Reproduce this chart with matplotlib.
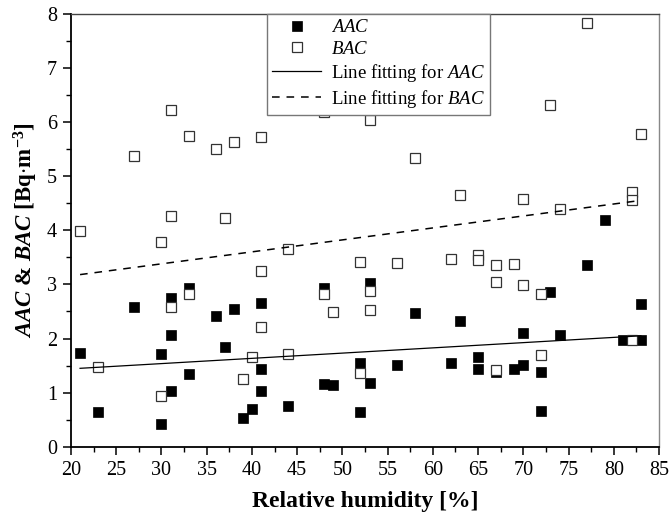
import numpy as np
import matplotlib
matplotlib.use("Agg")
import matplotlib.pyplot as plt
from matplotlib.ticker import MultipleLocator

plt.rcParams['font.family'] = ['Liberation Serif', 'DejaVu Serif']
plt.rcParams['mathtext.fontset'] = 'custom'
plt.rcParams['mathtext.rm'] = 'Liberation Serif'
plt.rcParams['mathtext.it'] = 'Liberation Serif:italic'
plt.rcParams['mathtext.bf'] = 'Liberation Serif:bold'
plt.rcParams['mathtext.bfit'] = 'Liberation Serif:bold:italic'

# AAC points (filled squares)
aac_rh = [21, 23, 27, 30, 30, 31, 31, 31, 33, 33, 36, 37, 38, 39, 40, 41, 41, 41,
          44, 48, 48, 49, 52, 52, 53, 53, 56, 58, 62, 63, 65, 65, 67, 69, 70, 70,
          72, 72, 73, 74, 77, 79, 81, 83, 83]
aac_val = [1.74, 0.64, 2.59, 1.71, 0.43, 2.74, 2.07, 1.04, 2.93, 1.34, 2.41, 1.85, 2.55,
           0.54, 0.70, 2.66, 1.44, 1.04, 0.76, 2.94, 1.16, 1.14, 1.55, 0.64, 3.03,
           1.17, 1.52, 2.47, 1.54, 2.32, 1.66, 1.44, 1.38, 1.44, 2.10, 1.51, 1.38, 0.67,
           2.85, 2.06, 3.35, 4.19, 1.97, 2.64, 1.97]

# BAC points (open squares)
bac_rh = [21, 23, 27, 30, 30, 31, 31, 31, 33, 33, 36, 37, 38, 39, 40, 41, 41, 41,
          44, 44, 48, 48, 49, 52, 52, 53, 53, 53, 56, 58, 62, 63, 65, 65, 67, 67, 67,
          69, 70, 70, 72, 72, 73, 74, 77, 82, 82, 82, 83]
bac_val = [3.99, 1.48, 5.37, 3.78, 0.94, 6.22, 4.27, 2.59, 5.74, 2.82, 5.50, 4.22, 5.62,
           1.26, 1.66, 5.72, 3.24, 2.22, 3.66, 1.71, 6.19, 2.82, 2.49, 3.42, 1.37, 6.03,
           2.88, 2.52, 3.40, 5.34, 3.47, 4.65, 3.55, 3.45, 3.36, 3.05, 1.42, 3.38, 4.58,
           2.99, 2.82, 1.70, 6.31, 4.40, 7.82, 4.70, 4.56, 1.97, 5.77]

# fitted lines (end points)
fit_rh = [21, 83]
aac_fit = [1.45, 2.05]
bac_fit = [3.18, 4.55]

fig = plt.figure(figsize=(6.7, 5.16), dpi=100)
ax = fig.add_axes([0.106, 0.134, 0.8776, 0.8398])

ax.plot(aac_rh, aac_val, linestyle='none', marker='s', ms=6.8, mfc='black',
        mec='black', mew=0.5, label=r'$\mathit{AAC}$', zorder=3)
ax.plot(bac_rh, bac_val, linestyle='none', marker='s', ms=6.7, mfc='white',
        mec='#333333', mew=0.9, label=r'$\mathit{BAC}$', zorder=4)
ax.plot(fit_rh, aac_fit, color='black', lw=0.9, label=r'Line fitting for $\mathit{AAC}$', zorder=5)
ax.plot(fit_rh, bac_fit, color='black', lw=1.1, dashes=(5, 4.5),
        label=r'Line fitting for $\mathit{BAC}$', zorder=5)

ax.set_xlim(20, 85)
ax.set_ylim(0, 8)
ax.xaxis.set_major_locator(MultipleLocator(5))
ax.xaxis.set_minor_locator(MultipleLocator(2.5))
ax.yaxis.set_major_locator(MultipleLocator(1))
ax.yaxis.set_minor_locator(MultipleLocator(0.5))
ax.tick_params(which='major', direction='out', length=6, width=1.1, labelsize=14.5, pad=4)
ax.tick_params(which='minor', direction='out', length=3.5, width=1.0)

for s in ['left', 'bottom']:
    ax.spines[s].set_linewidth(1.3)
ax.spines['top'].set_color('#444444')
ax.spines['top'].set_linewidth(1.0)
ax.spines['right'].set_color('#888888')
ax.spines['right'].set_linewidth(1.0)

ax.set_xlabel('Relative humidity [%]', fontsize=17, fontweight='bold', labelpad=8)
ax.set_ylabel(r'$\mathbfit{AAC}$ & $\mathbfit{BAC}$ [Bq$\cdot$m$^{\mathbf{-3}}$]',
              fontsize=16.5, fontweight='bold', labelpad=5)

leg = ax.legend(loc='upper left', bbox_to_anchor=(0.333, 1.0), borderaxespad=0,
                fontsize=13.5, frameon=True, fancybox=False, framealpha=1,
                edgecolor='#777777', handlelength=2.6, labelspacing=0.22,
                borderpad=0.3, handletextpad=0.5)
leg.get_frame().set_linewidth(1.0)
leg.set_zorder(10)

fig.savefig('out.png', dpi=100)
